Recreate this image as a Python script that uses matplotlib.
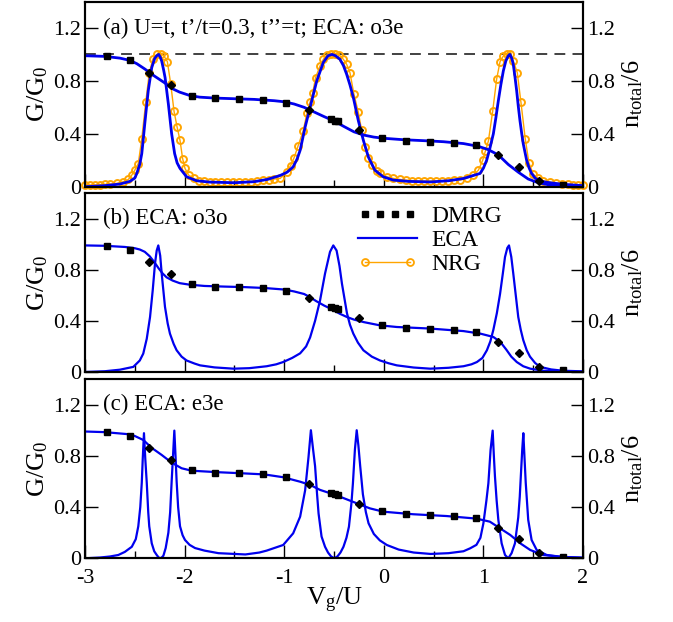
import matplotlib
matplotlib.use('Agg')
import matplotlib.pyplot as plt
from matplotlib.lines import Line2D
from matplotlib.legend_handler import HandlerLine2D
from matplotlib.ticker import MultipleLocator

plt.rcParams['font.family'] = ['Liberation Serif', 'DejaVu Serif']
plt.rcParams['mathtext.fontset'] = 'custom'
plt.rcParams['mathtext.rm'] = 'Liberation Serif'
plt.rcParams['mathtext.it'] = 'Liberation Serif:italic'
plt.rcParams['axes.unicode_minus'] = False

# ---- DMRG (same in all panels) ----
vg_dmrg_sq = [-2.78, -2.55, -1.93, -1.69, -1.45, -1.21, -0.98, -0.53, -0.49, -0.46,
              -0.02, 0.22, 0.46, 0.70, 0.93, 1.80]
n_dmrg_sq = [0.985, 0.958, 0.688, 0.668, 0.663, 0.657, 0.635, 0.510, 0.500, 0.493,
             0.368, 0.346, 0.338, 0.331, 0.313, 0.012]
vg_dmrg_dm = [-2.36, -2.14, -0.75, -0.25, 1.15, 1.36, 1.56]
n_dmrg_dm = [0.862, 0.766, 0.577, 0.426, 0.238, 0.150, 0.040]

# ---- panel (a): ECA o3e ----
vg_G_a = [-3.0, -2.8, -2.65, -2.55, -2.5, -2.48, -2.45, -2.43, -2.415, -2.4, -2.38, -2.365,
          -2.33, -2.3, -2.28, -2.26, -2.245, -2.23, -2.21, -2.196, -2.163, -2.13, -2.1,
          -2.075, -2.046, -1.98, -1.88, -1.75, -1.5, -1.3, -1.17, -1.04, -0.97, -0.91,
          -0.87, -0.84, -0.79, -0.74, -0.673, -0.607, -0.56, -0.52, -0.485, -0.44, -0.405,
          -0.373, -0.34, -0.306, -0.256, -0.205, -0.155, -0.09, -0.006, 0.095, 0.25, 0.47,
          0.65, 0.8, 0.9, 0.966, 1.0, 1.033, 1.065, 1.1, 1.125, 1.15, 1.175, 1.2, 1.225,
          1.25, 1.267, 1.285, 1.3, 1.317, 1.334, 1.35, 1.367, 1.385, 1.4, 1.434, 1.46,
          1.484, 1.52, 1.55, 1.6, 1.668, 1.8, 2.0]
G_a = [0.0, 0.008, 0.02, 0.04, 0.065, 0.1, 0.17, 0.25, 0.36, 0.475, 0.62, 0.725,
       0.9, 0.97, 0.99, 1.0, 0.98, 0.95, 0.88, 0.825, 0.625, 0.4, 0.25,
       0.18, 0.138, 0.075, 0.045, 0.035, 0.03, 0.038, 0.055, 0.085, 0.11, 0.15,
       0.21, 0.275, 0.45, 0.6, 0.8, 0.94, 0.99, 1.0, 0.99, 0.963, 0.915,
       0.85, 0.77, 0.675, 0.5, 0.35, 0.225, 0.125, 0.075, 0.05, 0.04, 0.036,
       0.045, 0.062, 0.085, 0.1, 0.14, 0.2, 0.29, 0.4, 0.52, 0.65, 0.77, 0.875, 0.95,
       0.99, 1.0, 0.97, 0.925, 0.83, 0.725, 0.61, 0.5, 0.4, 0.325, 0.2, 0.14,
       0.1, 0.065, 0.05, 0.038, 0.03, 0.018, 0.008]
vg_n_a = [-3.0, -2.8, -2.65, -2.55, -2.48, -2.4, -2.3, -2.2, -2.12, -2.05, -1.95, -1.85,
          -1.7, -1.5, -1.3, -1.1, -1.0, -0.9, -0.8, -0.7, -0.6, -0.5, -0.4, -0.3, -0.2,
          -0.1, 0.0, 0.2, 0.4, 0.6, 0.8, 0.95, 1.05, 1.15, 1.25, 1.35, 1.45, 1.55, 1.65,
          1.8, 2.0]
n_a = [0.99, 0.985, 0.972, 0.955, 0.93, 0.89, 0.835, 0.785, 0.74, 0.715, 0.69, 0.677,
       0.67, 0.665, 0.66, 0.65, 0.642, 0.625, 0.6, 0.565, 0.53, 0.497, 0.455, 0.415, 0.39,
       0.375, 0.366, 0.355, 0.348, 0.34, 0.326, 0.305, 0.28, 0.24, 0.168, 0.11, 0.058,
       0.03, 0.015, 0.006, 0.002]

# ---- panel (a): NRG ----
vg_nrg = [-3.0, -2.95, -2.9, -2.85, -2.8, -2.749, -2.682, -2.615, -2.565, -2.53, -2.5,
          -2.465, -2.43, -2.39, -2.355, -2.32, -2.28, -2.24, -2.207, -2.173, -2.14, -2.106,
          -2.075, -2.046, -2.02, -1.996, -1.96, -1.91, -1.86, -1.81, -1.75, -1.69, -1.63,
          -1.57, -1.51, -1.45, -1.39, -1.33, -1.27, -1.21, -1.15, -1.1, -1.04, -0.975,
          -0.935, -0.9, -0.86, -0.81, -0.77, -0.74, -0.715, -0.685, -0.64, -0.607, -0.573,
          -0.533, -0.49, -0.446, -0.406, -0.373, -0.34, -0.3, -0.256, -0.222, -0.189,
          -0.156, -0.122, -0.072, -0.038, 0.028, 0.095, 0.16, 0.22, 0.28, 0.34, 0.4, 0.46,
          0.52, 0.58, 0.64, 0.7, 0.765, 0.832, 0.9, 0.95, 0.993, 1.02, 1.05, 1.093, 1.133,
          1.167, 1.2, 1.234, 1.267, 1.3, 1.34, 1.377, 1.42, 1.457, 1.5, 1.55, 1.6, 1.668,
          1.73, 1.79, 1.85, 1.9, 1.95, 2.0]
G_nrg = [0.012, 0.013, 0.014, 0.016, 0.018, 0.02, 0.025, 0.038, 0.055, 0.088, 0.125,
         0.175, 0.363, 0.64, 0.858, 0.963, 1.0, 1.005, 0.988, 0.945, 0.78, 0.57,
         0.45, 0.35, 0.213, 0.138, 0.088, 0.063, 0.045, 0.04, 0.036, 0.034, 0.033,
         0.032, 0.032, 0.033, 0.035, 0.038, 0.042, 0.047, 0.053, 0.058, 0.063, 0.113,
         0.16, 0.22, 0.31, 0.42, 0.56, 0.64, 0.705, 0.825, 0.913, 0.963, 0.995,
         1.005, 1.005, 0.995, 0.963, 0.925, 0.863, 0.70, 0.563, 0.425, 0.3,
         0.22, 0.163, 0.12, 0.1, 0.075, 0.063, 0.055, 0.05, 0.046, 0.044, 0.043, 0.043,
         0.044, 0.045, 0.046, 0.048, 0.05, 0.063, 0.088, 0.125, 0.2, 0.27, 0.345, 0.57, 0.813,
         0.945, 0.988, 1.005, 1.0, 0.95, 0.863, 0.638, 0.363, 0.18, 0.095, 0.063, 0.045, 0.035,
         0.028, 0.022, 0.017, 0.014, 0.012, 0.01]

# ---- panel (b): ECA o3o ----
vg_G_b = [-3.0, -2.8, -2.65, -2.515, -2.45, -2.415, -2.38, -2.347, -2.32, -2.297, -2.28,
          -2.264, -2.245, -2.23, -2.197, -2.17, -2.147, -2.11, -2.08, -2.03, -1.98, -1.9,
          -1.845, -1.7, -1.51, -1.35, -1.176, -1.08, -1.01, -0.92, -0.84, -0.78, -0.74,
          -0.69, -0.64, -0.59, -0.54, -0.507, -0.474, -0.445, -0.42, -0.37, -0.34, -0.306,
          -0.26, -0.205, -0.12, -0.038, 0.05, 0.13, 0.3, 0.465, 0.65, 0.8, 0.88, 0.935,
          0.99, 1.035, 1.07, 1.1, 1.135, 1.167, 1.195, 1.217, 1.24, 1.257, 1.28, 1.3, 1.325,
          1.35, 1.375, 1.4, 1.435, 1.468, 1.52, 1.57, 1.68, 1.8, 2.0]
G_b = [0.0, 0.006, 0.018, 0.04, 0.09, 0.144, 0.26, 0.43, 0.64, 0.85, 0.95,
       0.99, 0.91, 0.77, 0.51, 0.38, 0.30, 0.22, 0.17, 0.12, 0.09, 0.066,
       0.052, 0.036, 0.026, 0.03, 0.045, 0.06, 0.078, 0.11, 0.146, 0.2, 0.27,
       0.4, 0.56, 0.77, 0.94, 0.99, 0.95, 0.83, 0.69, 0.46, 0.37, 0.30,
       0.23, 0.17, 0.12, 0.09, 0.068, 0.052, 0.035, 0.026, 0.033, 0.045, 0.06, 0.078,
       0.11, 0.17, 0.24, 0.33, 0.46, 0.61, 0.77, 0.9, 0.97, 0.99, 0.9, 0.77, 0.6,
       0.43, 0.33, 0.25, 0.17, 0.12, 0.07, 0.04, 0.02, 0.01, 0.005]
vg_n_b = [-3.0, -2.8, -2.6, -2.5, -2.45, -2.4, -2.35, -2.3, -2.26, -2.22, -2.18, -2.12,
          -2.05, -1.95, -1.8, -1.6, -1.4, -1.2, -1.0, -0.9, -0.8, -0.74, -0.68, -0.6,
          -0.52, -0.44, -0.37, -0.3, -0.2, -0.04, 0.13, 0.46, 0.8, 0.97, 1.1, 1.17, 1.23,
          1.28, 1.335, 1.4, 1.47, 1.6, 1.8, 2.0]
n_b = [0.99, 0.987, 0.978, 0.968, 0.958, 0.94, 0.905, 0.855, 0.81, 0.77, 0.74, 0.715,
       0.695, 0.683, 0.673, 0.668, 0.664, 0.657, 0.645, 0.63, 0.61, 0.585, 0.555, 0.52,
       0.49, 0.455, 0.43, 0.41, 0.39, 0.365, 0.352, 0.34, 0.32, 0.30, 0.274, 0.235, 0.175,
       0.12, 0.078, 0.045, 0.026, 0.01, 0.004, 0.002]

# ---- panel (c): ECA e3e ----
vg_G_c = [-3.0, -2.85, -2.75, -2.665, -2.6, -2.53, -2.49, -2.465, -2.445, -2.43, -2.42,
          -2.408, -2.395, -2.38, -2.365, -2.355, -2.33, -2.305, -2.28, -2.262, -2.247,
          -2.23, -2.213, -2.19, -2.163, -2.145, -2.13, -2.115, -2.103, -2.09, -2.08,
          -2.065, -2.046, -2.02, -1.996, -1.95, -1.895, -1.8, -1.66, -1.39, -1.25, -1.176,
          -1.01, -0.91, -0.84, -0.79, -0.756, -0.732, -0.71, -0.69, -0.67, -0.655, -0.625,
          -0.59, -0.56, -0.53, -0.497, -0.465, -0.435, -0.405, -0.375, -0.35, -0.325,
          -0.31, -0.29, -0.272, -0.255, -0.237, -0.21, -0.18, -0.153, -0.1, -0.04, 0.03,
          0.15, 0.3, 0.47, 0.65, 0.8, 0.867, 0.93, 0.97, 1.0, 1.03, 1.05, 1.072, 1.093,
          1.105, 1.116, 1.133, 1.15, 1.183, 1.217, 1.25, 1.283, 1.317, 1.35, 1.365, 1.377,
          1.39, 1.401, 1.413, 1.425, 1.45, 1.484, 1.535, 1.635, 1.8, 2.0]
G_c = [0.0, 0.006, 0.014, 0.026, 0.05, 0.09, 0.15, 0.25, 0.4, 0.59, 0.78,
       0.977, 0.78, 0.59, 0.36, 0.25, 0.117, 0.055, 0.026, 0.008, 0.0,
       0.006, 0.02, 0.08, 0.2, 0.36, 0.6, 0.82, 0.997, 0.78, 0.6,
       0.4, 0.25, 0.18, 0.143, 0.105, 0.08, 0.06, 0.04, 0.03, 0.045, 0.06,
       0.104, 0.195, 0.325, 0.53, 0.79, 1.0, 0.85, 0.72, 0.5, 0.35, 0.17,
       0.09, 0.045, 0.015, 0.0, 0.015, 0.045, 0.09, 0.16, 0.247, 0.43,
       0.586, 0.85, 1.0, 0.88, 0.72, 0.5, 0.36, 0.273, 0.19, 0.14, 0.104,
       0.068, 0.045, 0.034, 0.04, 0.055, 0.078, 0.105, 0.16, 0.273, 0.45, 0.586, 0.846, 0.997,
       0.8, 0.64, 0.45, 0.3, 0.117, 0.026, 0.0, 0.04, 0.117, 0.32, 0.48, 0.66,
       0.85, 0.977, 0.78, 0.59, 0.3, 0.143, 0.065, 0.026, 0.01, 0.005]
vg_n_c = [-3.0, -2.8, -2.565, -2.5, -2.415, -2.33, -2.23, -2.13, -2.03, -1.93, -1.66,
          -1.43, -1.2, -1.01, -0.84, -0.74, -0.64, -0.507, -0.44, -0.273, -0.14, -0.006,
          0.295, 0.63, 0.93, 1.065, 1.167, 1.27, 1.37, 1.47, 1.6, 1.8, 2.0]
n_c = [0.99, 0.985, 0.969, 0.955, 0.924, 0.862, 0.807, 0.747, 0.703, 0.684, 0.672,
       0.664, 0.655, 0.633, 0.598, 0.573, 0.534, 0.5, 0.481, 0.43, 0.39, 0.364,
       0.344, 0.33, 0.31, 0.286, 0.234, 0.182, 0.117, 0.065, 0.026, 0.01, 0.004]

panel_text = ['(a) U=t, t\u2019/t=0.3, t\u2019\u2019=t; ECA: o3e',
              '(b) ECA: o3o',
              '(c) ECA: e3e']

BLUE = '#0000ee'
ORANGE = '#ffa500'

W, H = 673, 622
left, right = 85 / W, 583 / W
# (top px, bottom px) of each panel
boxes = [(1.5, 186.7), (193.0, 372.0), (379.0, 558.3)]

fig = plt.figure(figsize=(W / 100, H / 100), dpi=100)
axes = []
for top_px, bot_px in boxes:
    ax = fig.add_axes([left, 1 - bot_px / H, right - left, (bot_px - top_px) / H])
    axes.append(ax)

G_data = [(vg_G_a, G_a), (vg_G_b, G_b), (vg_G_c, G_c)]
n_data = [(vg_n_a, n_a), (vg_n_b, n_b), (vg_n_c, n_c)]

TICK_FS = 16
LABEL_FS = 19

for i, ax in enumerate(axes):
    if i == 0:
        ax.axhline(1.0, color='#333333', lw=1.3, ls=(0, (6, 4)), zorder=1)
        ax.plot(vg_nrg, G_nrg, '-o', color=ORANGE, lw=1.0, ms=5, mfc='none',
                mew=1.4, zorder=2, clip_on=False)
        lw = 2.0
    else:
        lw = 1.6
    ax.plot(*G_data[i], color=BLUE, lw=lw, zorder=3)
    ax.plot(*n_data[i], color=BLUE, lw=lw, zorder=3)
    ax.plot(vg_dmrg_sq, n_dmrg_sq, 's', color='k', ms=5, zorder=4)
    ax.plot(vg_dmrg_dm, n_dmrg_dm, 'D', color='k', ms=4.5, zorder=4)

    ax.set_xlim(-3, 2)
    ax.set_ylim(0, 1.4)
    ax.xaxis.set_major_locator(MultipleLocator(1))
    ax.xaxis.set_minor_locator(MultipleLocator(0.5))
    ax.set_yticks([0, 0.4, 0.8, 1.2])
    ax.set_yticklabels(['0', '0.4', '0.8', '1.2'])
    ax.tick_params(axis='both', which='both', direction='in', width=1.0,
                   labelsize=TICK_FS, top=False)
    ax.tick_params(axis='x', which='major', length=9.5, pad=8)
    ax.tick_params(axis='x', which='minor', length=5)
    ax.tick_params(axis='y', which='major', length=9, pad=3)
    for sp in ax.spines.values():
        sp.set_linewidth(1.5)
    if i < 2:
        ax.tick_params(axis='x', labelbottom=False)
    ax.set_ylabel('G/G$_0$', fontsize=LABEL_FS, labelpad=2)
    ax.text(-2.82, 1.2, panel_text[i], fontsize=16.5, va='center', ha='left')

    axr = ax.twinx()
    axr.set_ylim(0, 1.4)
    axr.set_yticks([0, 0.4, 0.8, 1.2])
    axr.set_yticklabels(['0', '0.4', '0.8', '1.2'])
    axr.tick_params(axis='y', direction='in', length=9, width=1.0,
                    labelsize=TICK_FS, pad=3)
    for sp in axr.spines.values():
        sp.set_linewidth(1.5)
    axr.set_ylabel('n$_{\\mathrm{total}}$/6', fontsize=LABEL_FS, labelpad=4)

axes[2].set_xticks([-3, -2, -1, 0, 1, 2])
axes[2].set_xticklabels(['-3', '-2', '-1', '0', '1', '2'])
axes[2].set_xlabel('V$_{\\mathrm{g}}$/U', fontsize=LABEL_FS, labelpad=-2)

h_dmrg = Line2D([], [], ls='none', marker='s', color='k', ms=4.5)
h_eca = Line2D([], [], color=BLUE, lw=1.6)
h_nrg = Line2D([], [], color=ORANGE, lw=1.0, marker='o', ms=5, mfc='none', mew=1.3)
axes[1].legend([h_dmrg, h_eca, h_nrg], ['DMRG', 'ECA', 'NRG'],
               loc='upper left', bbox_to_anchor=(0.515, 1.02), frameon=False,
               fontsize=17, handlelength=2.5, handletextpad=0.6, labelspacing=0.1,
               borderpad=0.2,
               handler_map={h_dmrg: HandlerLine2D(numpoints=4),
                            h_nrg: HandlerLine2D(numpoints=2)})

fig.savefig('out.png', dpi=100)
